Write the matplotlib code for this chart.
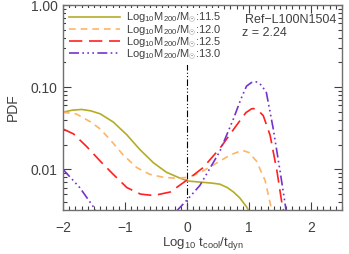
import matplotlib
matplotlib.use("Agg")
import matplotlib.pyplot as plt
from matplotlib.ticker import FixedLocator, MultipleLocator, LogLocator, NullFormatter

plt.rcParams['font.family'] = ['Liberation Sans', 'DejaVu Sans']
plt.rcParams['mathtext.fontset'] = 'custom'
plt.rcParams['mathtext.rm'] = 'Liberation Sans'
plt.rcParams['mathtext.it'] = 'Liberation Sans'

# curves (x = log10 tcool/tdyn, y = PDF)
x_115 = [-2.0, -1.85, -1.70, -1.55, -1.40, -1.19, -0.97, -0.76, -0.54, -0.33,
         -0.11, 0.02, 0.21, 0.4, 0.53, 0.65, 0.75, 0.85, 0.96, 1.0]
y_115 = [0.0497, 0.0525, 0.0536, 0.0515, 0.0474, 0.0377, 0.0263, 0.0174, 0.0120, 0.0092,
         0.0078, 0.0072, 0.0070, 0.0068, 0.0066, 0.0060, 0.0053, 0.0045, 0.0035, 0.0031]

x_120 = [-2.0, -1.78, -1.56, -1.40, -1.24, -1.03, -0.81, -0.60, -0.38, -0.17,
         0.02, 0.21, 0.53, 0.70, 0.855, 0.9, 1.0, 1.12, 1.26, 1.34, 1.37]
y_120 = [0.0497, 0.047, 0.038, 0.031, 0.023, 0.015, 0.0105, 0.0087, 0.0080, 0.0078,
         0.0080, 0.0091, 0.0126, 0.0150, 0.0166, 0.0170, 0.0160, 0.0126, 0.0073, 0.0039, 0.0031]

x_125 = [-2.0, -1.83, -1.62, -1.40, -1.19, -0.97, -0.75, -0.54, -0.27, 0.02,
         0.26, 0.53, 0.80, 0.95, 1.04, 1.07, 1.15, 1.23, 1.34, 1.45, 1.53, 1.56]
y_125 = [0.031, 0.027, 0.019, 0.0126, 0.0087, 0.0060, 0.0050, 0.0048, 0.0053, 0.0076,
         0.0105, 0.018, 0.0345, 0.049, 0.0545, 0.055, 0.052, 0.045, 0.026, 0.0096, 0.0039, 0.0031]

x_130a = [-2.0, -1.73, -1.51, -1.47]
y_130a = [0.0100, 0.0060, 0.0035, 0.0031]
x_130b = [-0.17, 0.02, 0.21, 0.53, 0.75, 0.87, 0.96, 1.04, 1.12, 1.20,
          1.28, 1.39, 1.50, 1.60]
y_130b = [0.0031, 0.0044, 0.0064, 0.0166, 0.0414, 0.072, 0.103, 0.114, 0.116, 0.106,
          0.086, 0.0314, 0.0096, 0.0031]

labels = ['11.5', '12.0', '12.5', '13.0']
colors = ['#b4ac28', '#ffb464', '#ff2020', '#7434cc']

grey = '#404040'
fig = plt.figure(figsize=(3.49, 2.54), dpi=100)
ax = fig.add_axes([0.1805, 0.1732, 0.7995, 0.807])

lab = r'Log$_{10}$M$_{200}$/M$_{\odot}$:'
ax.plot(x_115, y_115, color=colors[0], lw=1.2, label=lab + labels[0])
ax.plot(x_120, y_120, color=colors[1], lw=1.2, dashes=(4, 3), label=lab + labels[1])
ax.plot(x_125, y_125, color=colors[2], lw=1.2, dashes=(8, 4), label=lab + labels[2])
pdash = (6, 2, 1, 2, 1, 2, 1, 2)
ax.plot(x_130a, y_130a, color=colors[3], lw=1.2, dashes=pdash, label=lab + labels[3])
ax.plot(x_130b, y_130b, color=colors[3], lw=1.2, dashes=pdash)

ax.axvline(0, color='black', lw=0.8, dashes=(6, 2, 1, 2, 1, 2), zorder=0)

ax.set_yscale('log')
ax.set_xlim(-2, 2.5)
ax.set_ylim(0.0032, 1.0)
ax.yaxis.set_major_locator(FixedLocator([0.01, 0.1, 1.0]))
ax.set_yticklabels(['0.01', '0.10', '1.00'])
ax.yaxis.set_minor_locator(LogLocator(base=10, subs=range(2, 10)))
ax.yaxis.set_minor_formatter(NullFormatter())
ax.set_xticks([-2, -1, 0, 1, 2])
ax.set_xticklabels(['\u22122', '\u22121', '0', '1', '2'])
ax.xaxis.set_minor_locator(MultipleLocator(0.1))

ax.tick_params(which='both', direction='in', top=True, right=True, colors=grey,
               labelsize=10, labelcolor=grey)
ax.tick_params(which='major', length=6, width=0.8)
ax.tick_params(axis='x', which='major', pad=8)
ax.tick_params(axis='y', which='major', pad=4)
ax.tick_params(which='minor', length=3, width=0.8)
for s in ax.spines.values():
    s.set_color('#707070')
    s.set_linewidth(1.0)

ax.set_xlabel(r'Log$_{10}$ t$_{\rm cool}$/t$_{\rm dyn}$', fontsize=9.5, color=grey, labelpad=0)
ax.set_ylabel('PDF', fontsize=10, color=grey, labelpad=8)

leg = ax.legend(loc='upper left', fontsize=8, frameon=True, handlelength=4.6,
                handletextpad=0.5, borderpad=0.25, labelspacing=-0.2,
                borderaxespad=0.3)
leg.get_frame().set_edgecolor('none')
leg.get_frame().set_facecolor('white')
leg.get_frame().set_alpha(1)
for t in leg.get_texts():
    t.set_color(grey)

ax.text(0.98, 0.955, 'Ref\u2212L100N1504', transform=ax.transAxes, ha='right', va='top',
        fontsize=9, color=grey)
ax.text(0.64, 0.895, 'z = 2.24', transform=ax.transAxes, ha='left', va='top',
        fontsize=9, color=grey)

fig.savefig('out.png', dpi=100)
